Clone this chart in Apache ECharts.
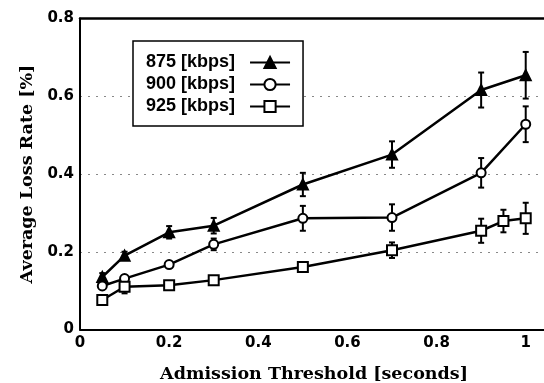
<!DOCTYPE html>
<html>
<head>
<meta charset="utf-8">
<script src="https://cdn.jsdelivr.net/npm/echarts@6/dist/echarts.min.js"></script>
<style>
  html, body { margin: 0; padding: 0; background: #fff; }
  #chart { width: 544px; height: 383px; }
</style>
</head>
<body>
<div id="chart"></div>
<script>
// Admission threshold (seconds) for each measured configuration
const thresholds875 = [0.05, 0.1, 0.2, 0.3, 0.5, 0.7, 0.9, 1.0];
const thresholds900 = [0.05, 0.1, 0.2, 0.3, 0.5, 0.7, 0.9, 1.0];
const thresholds925 = [0.05, 0.1, 0.2, 0.3, 0.5, 0.7, 0.9, 0.95, 1.0];

// Average loss rate [%] and half-width of the error bar
const loss875 = [0.135, 0.190, 0.250, 0.267, 0.373, 0.450, 0.616, 0.654];
const err875  = [0.010, 0.010, 0.016, 0.020, 0.030, 0.034, 0.045, 0.060];
const loss900 = [0.112, 0.131, 0.167, 0.219, 0.286, 0.288, 0.403, 0.528];
const err900  = [0.008, 0.008, 0.008, 0.015, 0.032, 0.034, 0.038, 0.046];
const loss925 = [0.076, 0.110, 0.114, 0.127, 0.161, 0.204, 0.254, 0.279, 0.286];
const err925  = [0.005, 0.017, 0.008, 0.008, 0.012, 0.020, 0.031, 0.029, 0.040];

const seriesNames = ['875 [kbps]', '900 [kbps]', '925 [kbps]'];
const xTickLabels = ['0', '0.2', '0.4', '0.6', '0.8', '1'];
const yTickLabels = ['0', '0.2', '0.4', '0.6', '0.8'];

const tickFont = { fontFamily: 'DejaVu Sans', fontWeight: 'bold', fontSize: 15, color: '#000' };
const titleFont = { fontFamily: 'DejaVu Serif', fontWeight: 'bold', fontSize: 17.5, color: '#000' };

function pairs(xs, ys) { return xs.map((x, i) => [x, ys[i]]); }
function errTriples(xs, ys, es) { return xs.map((x, i) => [x, ys[i] - es[i], ys[i] + es[i]]); }

function tickLabel(list) {
  return function (v) {
    const k = v / 0.2;
    const idx = Math.round(k);
    return Math.abs(k - idx) < 1e-6 && list[idx] !== undefined ? list[idx] : '';
  };
}

// Vertical error bar with short caps, positioned through the axis scales
function renderErrorBar(params, api) {
  const x = api.value(0);
  const lo = api.coord([x, api.value(1)]);
  const hi = api.coord([x, api.value(2)]);
  const cap = 3;
  const style = { stroke: '#000', lineWidth: 2, fill: null };
  return {
    type: 'group',
    children: [
      { type: 'line', shape: { x1: lo[0], y1: lo[1], x2: hi[0], y2: hi[1] }, style: style },
      { type: 'line', shape: { x1: lo[0] - cap, y1: lo[1], x2: lo[0] + cap, y2: lo[1] }, style: style },
      { type: 'line', shape: { x1: hi[0] - cap, y1: hi[1], x2: hi[0] + cap, y2: hi[1] }, style: style }
    ]
  };
}

function lineSeries(name, data, symbol, fill, size) {
  return {
    name: name,
    type: 'line',
    data: data,
    symbol: symbol,
    symbolSize: size,
    showAllSymbol: true,
    z: 3,
    lineStyle: { color: '#000', width: 2.5 },
    itemStyle: { color: fill, borderColor: '#000', borderWidth: 2 },
    emphasis: { disabled: true },
    animation: false
  };
}

function errorSeries(data) {
  return {
    type: 'custom',
    renderItem: renderErrorBar,
    data: data,
    z: 2,
    silent: true,
    animation: false
  };
}

const chart = echarts.init(document.getElementById('chart'), null, { renderer: 'canvas' });

chart.setOption({
  backgroundColor: '#fff',
  animation: false,
  grid: {
    left: 80, right: -4, top: 18.5, bottom: 53.5,
    outerBoundsMode: 'none',
    containLabel: false,
    show: false
  },
  legend: {
    left: 133, top: 41,
    orient: 'vertical',
    align: 'right',
    itemWidth: 40, itemHeight: 14, itemGap: 3,
    padding: [12, 12, 10, 13],
    borderColor: '#000', borderWidth: 1.5,
    backgroundColor: '#fff',
    selectedMode: false,
    textStyle: { fontFamily: 'Liberation Sans', fontWeight: 'bold', fontSize: 18, lineHeight: 19, color: '#000', padding: [0, 10, 0, 0] },
    data: seriesNames
  },
  xAxis: [{
    type: 'value',
    position: 'bottom',
    min: 0, max: 1.05, interval: 0.2,
    name: 'Admission Threshold [seconds]',
    nameLocation: 'middle', nameGap: 36,
    nameTextStyle: titleFont,
    axisLine: { show: true, onZero: false, lineStyle: { color: '#000', width: 2 } },
    axisTick: { show: false },
    splitLine: { show: false },
    axisLabel: Object.assign({ margin: 6, showMaxLabel: false, formatter: tickLabel(xTickLabels) }, tickFont)
  }, {
    // plain frame line along the top edge
    type: 'value',
    position: 'top',
    min: 0, max: 1.05, interval: 0.2,
    axisLine: { show: true, onZero: false, lineStyle: { color: '#000', width: 2.5 } },
    axisTick: { show: false },
    axisLabel: { show: false },
    splitLine: { show: false }
  }],
  yAxis: {
    type: 'value',
    min: 0, max: 0.8, interval: 0.2,
    name: 'Average Loss Rate [%]',
    nameLocation: 'middle', nameGap: 38,
    nameTextStyle: titleFont,
    axisLine: { show: true, onZero: false, lineStyle: { color: '#000', width: 2 } },
    axisTick: { show: false },
    splitLine: { show: true, lineStyle: { color: '#888', width: 1, type: [2, 6] } },
    axisLabel: Object.assign({ margin: 6, formatter: tickLabel(yTickLabels) }, tickFont)
  },
  series: [
    errorSeries(errTriples(thresholds875, loss875, err875)),
    errorSeries(errTriples(thresholds900, loss900, err900)),
    errorSeries(errTriples(thresholds925, loss925, err925)),
    lineSeries(seriesNames[0], pairs(thresholds875, loss875), 'triangle', '#000', 10),
    lineSeries(seriesNames[1], pairs(thresholds900, loss900), 'circle', '#fff', 9),
    lineSeries(seriesNames[2], pairs(thresholds925, loss925), 'rect', '#fff', 10)
  ]
});
</script>
</body>
</html>
